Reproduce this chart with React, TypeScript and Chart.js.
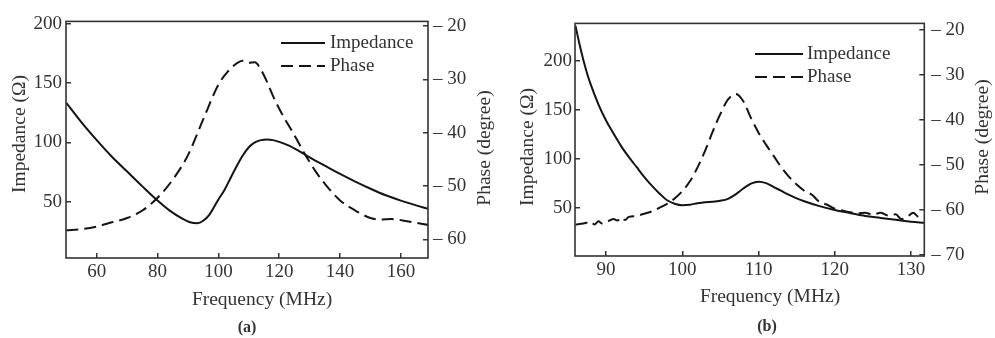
import React, { useEffect, useRef } from "react";
import { Chart, registerables } from "chart.js";

Chart.register(...registerables);

// ---------- Panel (a) data ----------
const freqImpA = [50, 55, 60, 65, 70, 75, 80, 84, 88, 91, 93, 95, 97, 100, 102, 104, 106, 108, 110, 112, 114, 116, 118, 120, 123, 126, 129, 132, 136, 140, 145, 150, 155, 160, 165, 169];
const impA = [133.5, 117, 102, 88, 75.5, 63, 51, 42.5, 36, 32.5, 32, 34, 39, 52, 60, 70, 80, 89, 96, 100, 102, 102.6, 102, 100.5, 97.5, 93.5, 89, 84.5, 79, 73.5, 67, 61, 55.5, 51, 47, 44];
const freqPhaseA = [50, 55, 60, 65, 70, 75, 80, 85, 90, 95, 100, 103, 106, 108, 110, 112, 114, 116, 118, 120, 122, 124, 126, 128, 130, 132, 135, 140, 145, 150, 153, 157, 162, 169];
const phaseA = [-58.3, -58.1, -57.6, -56.8, -56.0, -54.6, -52.2, -48.8, -44.2, -37.5, -31.0, -28.6, -27.0, -26.5, -26.9, -26.8, -28.2, -30.5, -33.2, -35.5, -37.6, -39.5, -41.5, -43.6, -45.5, -47.3, -49.6, -52.7, -54.6, -56.0, -56.3, -56.2, -56.6, -57.3];

// ---------- Panel (b) data ----------
const freqImpB = [86, 86.5, 87, 87.5, 88, 89, 90, 91, 92, 93, 94, 95, 96, 97, 98, 99, 100, 101, 102, 103, 104, 105, 106, 107, 108, 109, 110, 111, 112, 113, 114, 115, 116, 118, 120, 122, 124, 126, 128, 130, 131.7];
const impB = [236, 218, 202, 188, 176, 156, 139.5, 126, 113, 102, 92, 82, 73, 65, 58, 54.5, 53, 53.5, 55, 56, 56.5, 57.5, 59.5, 64, 70, 75, 77, 75.5, 71.5, 67.5, 63.5, 60, 57, 52, 48, 45, 42, 40, 38, 36, 35];
const freqPhaseB = [86, 87, 88, 88.5, 89, 89.5, 90, 91, 91.5, 92, 92.5, 93, 94, 95, 96, 97, 98, 99, 100, 101, 102, 103, 104, 105, 106, 107, 108, 109, 110, 111, 112, 113, 114, 115, 116, 117, 118, 119, 120, 121, 122, 123, 124, 125, 126, 127, 128, 128.7, 129.5, 130.3, 131, 131.7];
const phaseB = [-63.2, -63.0, -62.6, -63.2, -62.5, -63.0, -62.7, -62.0, -62.3, -61.6, -62.2, -61.5, -61.3, -60.8, -60.3, -59.5, -58.6, -57.4, -55.8, -53.6, -50.5, -46.8, -42.5, -38.6, -35.4, -34.2, -35.8, -39.5, -42.8, -45.5, -48.0, -50.5, -52.6, -54.3, -55.7, -56.6, -58.2, -58.8, -59.7, -60.1, -60.5, -60.7, -60.6, -61.0, -60.6, -61.2, -60.9, -62.0, -61.5, -60.6, -61.5, -61.3];

// ---------- Tick labels & texts ----------
const xTicksA = [60, 80, 100, 120, 140, 160];
const impTicksA = [50, 100, 150, 200];
const phaseTicksA = [-20, -30, -40, -50, -60];
const xTicksB = [90, 100, 110, 120, 130];
const impTicksB = [50, 100, 150, 200];
const phaseTicksB = [-20, -30, -40, -50, -60, -70];
const seriesLabels = ["Impedance", "Phase"];
const xTitle = "Frequency (MHz)";
const impTitle = "Impedance (\u03A9)";
const phaseTitle = "Phase (degree)";
const panelLabels = ["(a)", "(b)"];

const FONT = "'Liberation Serif', 'Times New Roman', serif";
const TEXT = "#333";
const LINE = "#141414";

const decorPlugin = {
  id: "decor",
  afterDraw(chart: any, _args: any, opts: any) {
    const { ctx, chartArea: a } = chart;
    ctx.save();
    ctx.strokeStyle = "#333";
    ctx.lineWidth = 1.6;
    ctx.setLineDash([]);
    ctx.strokeRect(a.left, a.top, a.right - a.left, a.bottom - a.top);
    ctx.fillStyle = TEXT;
    ctx.textAlign = "center";
    ctx.textBaseline = "middle";
    for (const t of opts.texts) {
      ctx.save();
      ctx.translate(t.x, t.y);
      if (t.rotate) ctx.rotate(-Math.PI / 2);
      ctx.font = t.font;
      ctx.fillText(t.text, 0, 0);
      ctx.restore();
    }
    const lg = opts.legend;
    ctx.font = `19px ${FONT}`;
    ctx.textAlign = "left";
    chart.data.datasets.forEach((ds: any, i: number) => {
      const y = lg.y + i * lg.dy;
      ctx.beginPath();
      ctx.setLineDash(ds.borderDash || []);
      ctx.lineWidth = ds.borderWidth;
      ctx.strokeStyle = ds.borderColor;
      ctx.moveTo(lg.x, y);
      ctx.lineTo(lg.x + lg.len, y);
      ctx.stroke();
      ctx.setLineDash([]);
      ctx.fillStyle = TEXT;
      ctx.fillText(ds.label, lg.x + lg.len + lg.gap, y);
    });
    ctx.restore();
  },
};

type Panel = {
  fx: number[]; imp: number[]; fp: number[]; ph: number[];
  xTicks: number[]; impTicks: number[]; phTicks: number[];
  xMin: number; xMax: number; yMin: number; yMax: number; pMin: number; pMax: number;
  top: number; leftW: number; rightW: number; bottomH: number;
  leftPad: number; rightPad: number;
  texts: any[]; legend: any;
};

function tickFont() {
  return { family: FONT, size: 19 };
}

function makeConfig(p: Panel): any {
  const grid = { drawOnChartArea: false, tickLength: -5, color: "#333", lineWidth: 1.5 };
  return {
    type: "line",
    data: {
      datasets: [
        {
          label: seriesLabels[0],
          data: p.fx.map((x, i) => ({ x, y: p.imp[i] })),
          yAxisID: "y",
          borderColor: LINE,
          borderWidth: 2,
          pointRadius: 0,
          cubicInterpolationMode: "monotone",
          fill: false,
        },
        {
          label: seriesLabels[1],
          data: p.fp.map((x, i) => ({ x, y: p.ph[i] })),
          yAxisID: "y1",
          borderColor: LINE,
          borderWidth: 2,
          borderDash: [12, 6],
          pointRadius: 0,
          cubicInterpolationMode: "monotone",
          fill: false,
        },
      ],
    },
    options: {
      animation: false,
      responsive: false,
      layout: { padding: { top: p.top, left: 0, right: 0, bottom: 0 } },
      plugins: {
        legend: { display: false },
        tooltip: { enabled: false },
        decor: { texts: p.texts, legend: p.legend },
      },
      scales: {
        x: {
          type: "linear",
          min: p.xMin,
          max: p.xMax,
          afterBuildTicks: (s: any) => { s.ticks = p.xTicks.map((v) => ({ value: v })); },
          afterFit: (s: any) => { s.height = p.bottomH; },
          grid,
          border: { display: false },
          ticks: { padding: 8, font: tickFont(), color: TEXT, maxRotation: 0 },
        },
        y: {
          type: "linear",
          position: "left",
          min: p.yMin,
          max: p.yMax,
          afterBuildTicks: (s: any) => { s.ticks = p.impTicks.map((v) => ({ value: v })); },
          afterFit: (s: any) => { s.width = p.leftW; },
          grid,
          border: { display: false },
          ticks: { padding: p.leftPad, font: tickFont(), color: TEXT },
        },
        y1: {
          type: "linear",
          position: "right",
          min: p.pMin,
          max: p.pMax,
          afterBuildTicks: (s: any) => { s.ticks = p.phTicks.map((v) => ({ value: v })); },
          afterFit: (s: any) => { s.width = p.rightW; },
          grid,
          border: { display: false },
          ticks: {
            padding: p.rightPad,
            font: tickFont(),
            color: TEXT,
            callback: (v: number) => (v < 0 ? "\u2013 " + Math.abs(v) : String(v)),
          },
        },
      },
    },
    plugins: [decorPlugin],
  };
}

const titleFont = `19.5px ${FONT}`;
const panelFont = `bold 16px ${FONT}`;

const panelA: Panel = {
  fx: freqImpA, imp: impA, fp: freqPhaseA, ph: phaseA,
  xTicks: xTicksA, impTicks: impTicksA, phTicks: phaseTicksA,
  xMin: 49.9, xMax: 168.9, yMin: 2.6, yMax: 202.1, pMin: -63.5, pMax: -19.13,
  top: 18, leftW: 66, rightW: 69, bottomH: 80, leftPad: 9, rightPad: 10,
  texts: [
    { text: xTitle, x: 262, y: 300, font: titleFont },
    { text: panelLabels[0], x: 247, y: 328, font: panelFont },
    { text: impTitle, x: 20, y: 134, rotate: true, font: titleFont },
    { text: phaseTitle, x: 485, y: 148, rotate: true, font: titleFont },
  ],
  legend: { x: 281, y: 43, dy: 23, len: 44, gap: 5 },
};

const panelB: Panel = {
  fx: freqImpB, imp: impB, fp: freqPhaseB, ph: phaseB,
  xTicks: xTicksB, impTicks: impTicksB, phTicks: phaseTicksB,
  xMin: 85.93, xMax: 131.74, yMin: 1.1, yMax: 238.6, pMin: -70.2, pMax: -18.5,
  top: 14, leftW: 78, rightW: 70.7, bottomH: 82, leftPad: 8, rightPad: 12,
  texts: [
    { text: xTitle, x: 273, y: 297, font: titleFont },
    { text: panelLabels[1], x: 270, y: 327, font: panelFont },
    { text: impTitle, x: 31, y: 147, rotate: true, font: titleFont },
    { text: phaseTitle, x: 486, y: 137, rotate: true, font: titleFont },
  ],
  legend: { x: 258, y: 54, dy: 23, len: 48, gap: 4 },
};

function ChartCanvas({ panel, left, width }: { panel: Panel; left: number; width: number }) {
  const ref = useRef<HTMLCanvasElement | null>(null);
  useEffect(() => {
    if (!ref.current) return;
    const chart = new Chart(ref.current, makeConfig(panel));
    return () => chart.destroy();
  }, [panel]);
  return (
    <canvas
      ref={ref}
      width={width}
      height={338}
      style={{ position: "absolute", left, top: 0, width, height: 338, display: "block" }}
    />
  );
}

export default function App() {
  return (
    <div style={{ position: "fixed", left: 0, top: 0, width: 995, height: 338, background: "#fff" }}>
      <ChartCanvas panel={panelA} left={0} width={497} />
      <ChartCanvas panel={panelB} left={497} width={498} />
    </div>
  );
}
